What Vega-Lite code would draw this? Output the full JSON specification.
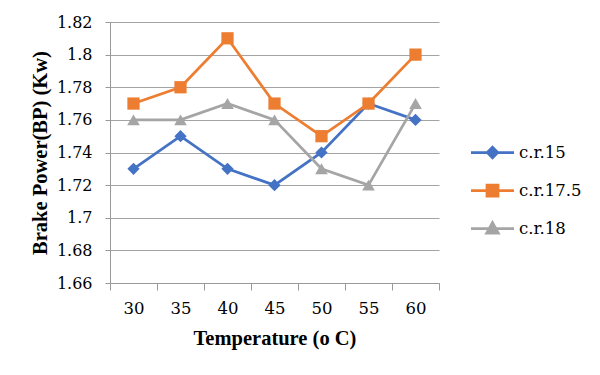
{
  "$schema": "https://vega.github.io/schema/vega-lite/v6.json",
  "autosize": {"type": "none"},
  "width": 329,
  "height": 261,
  "padding": {"left": 110, "top": 22, "right": 161, "bottom": 92},
  "background": "white",
  "config": {
    "view": {"stroke": null}
  },
  "data": {
    "values": [
      {"temp": 30, "series": "c.r.15", "bp": 1.73},
      {"temp": 35, "series": "c.r.15", "bp": 1.75},
      {"temp": 40, "series": "c.r.15", "bp": 1.73},
      {"temp": 45, "series": "c.r.15", "bp": 1.72},
      {"temp": 50, "series": "c.r.15", "bp": 1.74},
      {"temp": 55, "series": "c.r.15", "bp": 1.77},
      {"temp": 60, "series": "c.r.15", "bp": 1.76},
      {"temp": 30, "series": "c.r.17.5", "bp": 1.77},
      {"temp": 35, "series": "c.r.17.5", "bp": 1.78},
      {"temp": 40, "series": "c.r.17.5", "bp": 1.81},
      {"temp": 45, "series": "c.r.17.5", "bp": 1.77},
      {"temp": 50, "series": "c.r.17.5", "bp": 1.75},
      {"temp": 55, "series": "c.r.17.5", "bp": 1.77},
      {"temp": 60, "series": "c.r.17.5", "bp": 1.80},
      {"temp": 30, "series": "c.r.18", "bp": 1.76},
      {"temp": 35, "series": "c.r.18", "bp": 1.76},
      {"temp": 40, "series": "c.r.18", "bp": 1.77},
      {"temp": 45, "series": "c.r.18", "bp": 1.76},
      {"temp": 50, "series": "c.r.18", "bp": 1.73},
      {"temp": 55, "series": "c.r.18", "bp": 1.72},
      {"temp": 60, "series": "c.r.18", "bp": 1.77}
    ]
  },
  "encoding": {
    "x": {
      "field": "temp", "type": "ordinal",
      "scale": {"type": "band", "paddingInner": 0, "paddingOuter": 0},
      "axis": {
        "title": "Temperature (o C)",
        "titleFont": "Liberation Serif", "titleColor": "black",
        "titleFontSize": 20.5, "titleFontWeight": "bold",
        "titleX": 164.5, "titleY": 61, "titleBaseline": "alphabetic", "titleAnchor": null, "titleAlign": "center",
        "labelAngle": 0, "labelFont": "DejaVu Serif", "labelColor": "black", "labelFontSize": 16.5, "labelPadding": 10, "labelBaseline": "top",
        "tickBand": "extent", "tickSize": 7, "tickColor": "#999999",
        "domainColor": "#999999", "grid": false
      }
    },
    "y": {
      "field": "bp", "type": "quantitative",
      "scale": {"domain": [1.66, 1.82], "zero": false, "nice": false},
      "axis": {
        "title": "Brake Power(BP) (Kw)",
        "titleFont": "Liberation Serif", "titleColor": "black",
        "titleFontSize": 20.5, "titleFontWeight": "bold",
        "titleX": -70, "titleY": 130.5, "titleAngle": -90, "titleBaseline": "middle", "titleAlign": "center", "titleAnchor": null,
        "values": [1.66, 1.68, 1.7, 1.72, 1.74, 1.76, 1.78, 1.8, 1.82],
        "format": "~g",
        "labelFont": "DejaVu Serif", "labelColor": "black", "labelFontSize": 16, "labelPadding": 13,
        "tickSize": 5, "tickColor": "#999999",
        "domainColor": "#999999",
        "grid": true, "gridColor": "#a3a3a3", "gridWidth": 1
      }
    },
    "color": {
      "field": "series", "type": "nominal",
      "scale": {"domain": ["c.r.15", "c.r.17.5", "c.r.18"], "range": ["#4472C4", "#ED7D31", "#A5A5A5"]},
      "legend": {
        "title": null, "orient": "none", "legendX": 371, "legendY": 119, "padding": 0,
        "symbolSize": 400, "symbolOpacity": 1, "symbolStrokeWidth": 2.75,
        "rowPadding": 15, "labelOffset": 15,
        "labelFont": "DejaVu Serif", "labelFontSize": 16.5, "labelColor": "black", "labelLimit": 200
      }
    }
  },
  "layer": [
    {
      "mark": {"type": "line", "strokeWidth": 2.75}
    },
    {
      "transform": [{"filter": "datum.series === 'c.r.15'"}],
      "mark": {"type": "point", "shape": "diamond", "filled": true, "opacity": 1, "size": 150}
    },
    {
      "transform": [{"filter": "datum.series === 'c.r.17.5'"}],
      "mark": {"type": "point", "shape": "square", "filled": true, "opacity": 1, "size": 150}
    },
    {
      "transform": [{"filter": "datum.series === 'c.r.18'"}],
      "mark": {"type": "point", "shape": "triangle-up", "filled": true, "opacity": 1, "size": 160}
    },
    {
      "mark": {"type": "point", "filled": true, "opacity": 0, "size": 1},
      "encoding": {
        "shape": {
          "field": "series", "type": "nominal",
          "scale": {"domain": ["c.r.15", "c.r.17.5", "c.r.18"], "range": ["M-2.15,0H2.15M0,-0.52L0.52,0L0,0.52L-0.52,0Z", "M-2.15,0H2.15M-0.55,-0.55H0.55V0.55H-0.55Z", "M-2.15,0H2.15M0,-0.58L0.58,0.47L-0.58,0.47Z"]},
          "legend": {
            "title": null, "orient": "none", "legendX": 371, "legendY": 119, "padding": 0,
            "symbolSize": 400, "symbolOpacity": 1, "symbolStrokeWidth": 2.75,
            "rowPadding": 15, "labelOffset": 15,
            "labelFont": "DejaVu Serif", "labelFontSize": 16.5, "labelColor": "black", "labelLimit": 200
          }
        },
        "stroke": {
          "field": "series", "type": "nominal",
          "scale": {"domain": ["c.r.15", "c.r.17.5", "c.r.18"], "range": ["#4472C4", "#ED7D31", "#A5A5A5"]},
          "legend": {
            "title": null, "orient": "none", "legendX": 371, "legendY": 119, "padding": 0,
            "symbolSize": 400, "symbolOpacity": 1, "symbolStrokeWidth": 2.75,
            "rowPadding": 15, "labelOffset": 15,
            "labelFont": "DejaVu Serif", "labelFontSize": 16.5, "labelColor": "black", "labelLimit": 200
          }
        }
      }
    }
  ]
}
